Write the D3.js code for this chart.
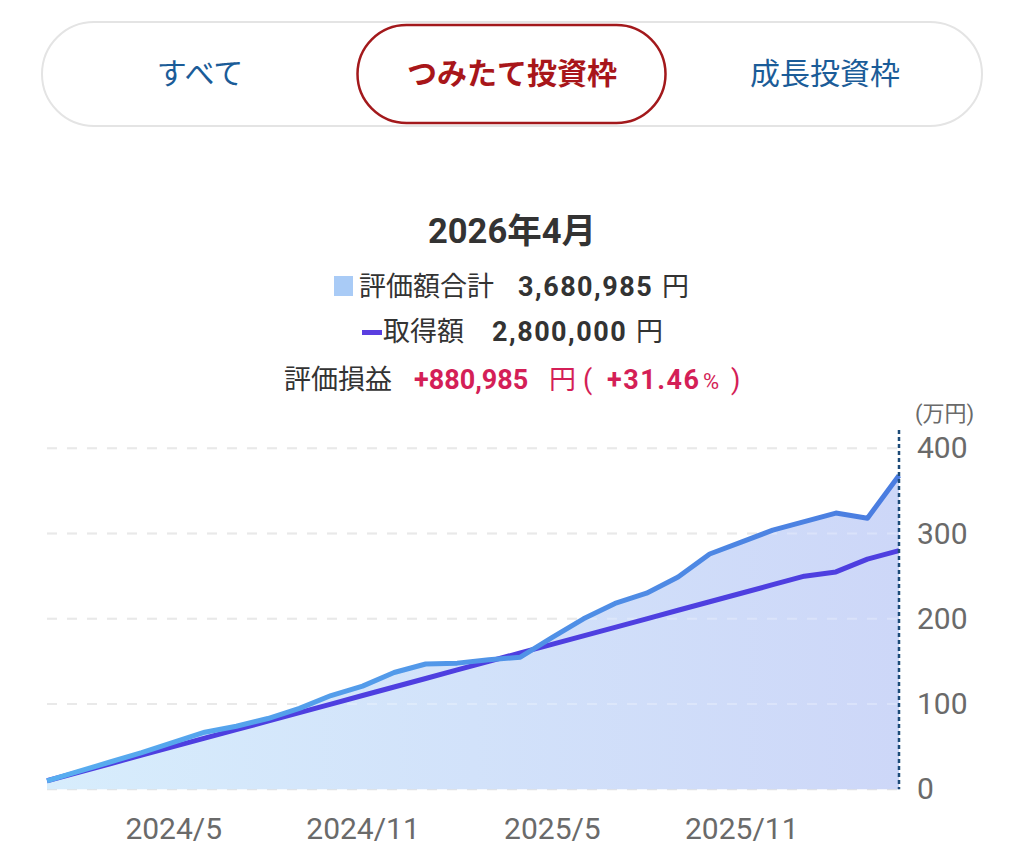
<!DOCTYPE html>
<html><head><meta charset="utf-8">
<script src="https://cdn.jsdelivr.net/npm/d3@7"></script>
<style>
html,body{margin:0;padding:0;background:#fff;}
svg{display:block;font-family:Roboto,"Noto Sans CJK JP",sans-serif;}
</style></head>
<body><svg id="c" width="1024" height="864"></svg>
<script>
const tabs = ["すべて", "つみたて投資枠", "成長投資枠"];
const selectedTab = "つみたて投資枠";
const title = "2026年4月";
const months = ["2024/1","2024/2","2024/3","2024/4","2024/5","2024/6","2024/7","2024/8","2024/9","2024/10","2024/11","2024/12",
  "2025/1","2025/2","2025/3","2025/4","2025/5","2025/6","2025/7","2025/8","2025/9","2025/10","2025/11","2025/12",
  "2026/1","2026/2","2026/3","2026/4"];
// 万円
const valuation = [10,21,32,43,55,67,74,83,95,110,121,137,147,148,152,155,178,200,218,230,249,276,290,304,314,324,318,368.0985];
const acquisition = [10,20,30,40,50,60,70,80,90,100,110,120,130,140,150,160,170,180,190,200,210,220,230,240,250,255,270,280];
const xTicks = ["2024/5","2024/11","2025/5","2025/11"];
const yTicks = [0,100,200,300,400];
const legendValuation = {label:"評価額合計", value:"3,680,985", unit:"円"};
const legendAcq = {label:"取得額", value:"2,800,000", unit:"円"};
const pl = {label:"評価損益", value:"+880,985", unit:"円", pct:"+31.46", pctUnit:"%"};

const svg = d3.select("#c");

// Tabs
svg.append("rect").attr("x",42).attr("y",22).attr("width",940).attr("height",104).attr("rx",52)
  .attr("fill","#fff").attr("stroke","#e4e4e4").attr("stroke-width",2);
svg.append("rect").attr("x",357.5).attr("y",25).attr("width",308).attr("height",98).attr("rx",49)
  .attr("fill","#fff").attr("stroke","#a3191c").attr("stroke-width",2.5);
const tabX = [200, 512, 825];
tabs.forEach((t,i)=>{
  const sel = t===selectedTab;
  svg.append("text").attr("x",tabX[i]).attr("y",84).attr("text-anchor","middle")
    .attr("font-size",30).attr("font-weight",sel?700:400).attr("fill",sel?"#a8161a":"#1b5c98").text(t);
});

// Title
svg.append("text").attr("x",512).attr("y",243).attr("text-anchor","middle").attr("font-size",34.5)
  .attr("font-weight",700).attr("fill","#333").text(title);

// Legend line 1
svg.append("rect").attr("x",334).attr("y",276).attr("width",19).attr("height",20).attr("fill","#a9cbf6");
let t1 = svg.append("text").attr("x",359).attr("y",296).attr("font-size",27).attr("fill","#333");
t1.append("tspan").text(legendValuation.label);
t1.append("tspan").attr("x",518).attr("font-weight",700).attr("letter-spacing",1.5).text(legendValuation.value);
t1.append("tspan").attr("x",662).attr("letter-spacing",0).text(legendValuation.unit);

// Legend line 2
svg.append("rect").attr("x",362).attr("y",330).attr("width",20).attr("height",5).attr("fill","#5a3ee0");
let t2 = svg.append("text").attr("x",383).attr("y",341).attr("font-size",27).attr("fill","#333");
t2.append("tspan").text(legendAcq.label);
t2.append("tspan").attr("x",492).attr("font-weight",700).attr("letter-spacing",1.5).text(legendAcq.value);
t2.append("tspan").attr("x",636).attr("letter-spacing",0).text(legendAcq.unit);

// Line 3
const red = "#d41f57";
let t3 = svg.append("text").attr("x",284).attr("y",389).attr("font-size",27).attr("fill","#333");
t3.append("tspan").text(pl.label);
t3.append("tspan").attr("x",414).attr("font-weight",700).attr("fill",red).text(pl.value);
t3.append("tspan").attr("x",549).attr("fill",red).text(pl.unit);
t3.append("tspan").attr("x",583).attr("fill",red).text("(");
t3.append("tspan").attr("x",607).attr("font-weight",700).attr("fill",red).attr("letter-spacing",1.5).text(pl.pct);
t3.append("tspan").attr("x",703).attr("fill",red).attr("font-size",22).attr("letter-spacing",0).text(pl.pctUnit);
t3.append("tspan").attr("x",731).attr("fill",red).text(")");

// Chart
const x = d3.scalePoint().domain(months).range([47, 899]);
const y = d3.scaleLinear().domain([0,400]).range([789.3, 448.3]);

const defs = svg.append("defs");
const ag = defs.append("linearGradient").attr("id","areaG").attr("gradientUnits","userSpaceOnUse")
  .attr("x1",47).attr("x2",899).attr("y1",0).attr("y2",0);
ag.append("stop").attr("offset",0).attr("stop-color","#d7edfc");
ag.append("stop").attr("offset",1).attr("stop-color","#cdd7f8");
const lg = defs.append("linearGradient").attr("id","lineG").attr("gradientUnits","userSpaceOnUse")
  .attr("x1",47).attr("x2",899).attr("y1",0).attr("y2",0);
lg.append("stop").attr("offset",0).attr("stop-color","#58aef0");
lg.append("stop").attr("offset",1).attr("stop-color","#4a7ce0");

// grid
svg.append("g").selectAll("line").data(yTicks).join("line")
  .attr("x1",47).attr("x2",899).attr("y1",d=>y(d)).attr("y2",d=>y(d))
  .attr("stroke","#e2e2e2").attr("stroke-width",2).attr("stroke-dasharray","10,10");

const data = months.map((m,i)=>({m, v:valuation[i], a:acquisition[i]}));

svg.append("path").datum(data)
  .attr("d", d3.area().x(d=>x(d.m)).y0(y(0)).y1(d=>y(d.v)))
  .attr("fill","url(#areaG)");

svg.append("g").selectAll("line").data(yTicks.slice(1)).join("line")
  .attr("x1",47).attr("x2",899).attr("y1",d=>y(d)).attr("y2",d=>y(d))
  .attr("stroke","#ffffff").attr("stroke-opacity",0.25).attr("stroke-width",2).attr("stroke-dasharray","10,10");

svg.append("path").datum(data)
  .attr("d", d3.line().x(d=>x(d.m)).y(d=>y(d.a)))
  .attr("fill","none").attr("stroke","#4e3fe0").attr("stroke-width",5).attr("stroke-linejoin","round");

svg.append("path").datum(data)
  .attr("d", d3.line().x(d=>x(d.m)).y(d=>y(d.v)))
  .attr("fill","none").attr("stroke","url(#lineG)").attr("stroke-width",5).attr("stroke-linejoin","round");

// vertical dotted cursor
svg.append("line").attr("x1",x(months[months.length-1])).attr("x2",x(months[months.length-1]))
  .attr("y1",430).attr("y2",y(0)).attr("stroke","#1d4b78").attr("stroke-width",2.5).attr("stroke-dasharray","4,3");

// y axis
const ya = svg.append("g").attr("transform","translate(912,0)")
  .call(d3.axisRight(y).tickValues(yTicks).tickSize(0).tickPadding(5).tickFormat(d3.format("d")));
ya.select(".domain").remove();
ya.selectAll("text").attr("font-size",30).attr("fill","#6a6a6a").attr("font-family","Roboto");
svg.append("text").attr("x",915).attr("y",421).attr("font-size",22).attr("fill","#6a6a6a").text("(万円)");

// x axis
const xa = svg.append("g").attr("transform",`translate(0,${y(0)})`)
  .call(d3.axisBottom(x).tickValues(xTicks).tickSize(0).tickPadding(28));
xa.select(".domain").remove();
xa.selectAll("text").attr("font-size",30).attr("fill","#6a6a6a").attr("font-family","Roboto");
</script></body></html>
